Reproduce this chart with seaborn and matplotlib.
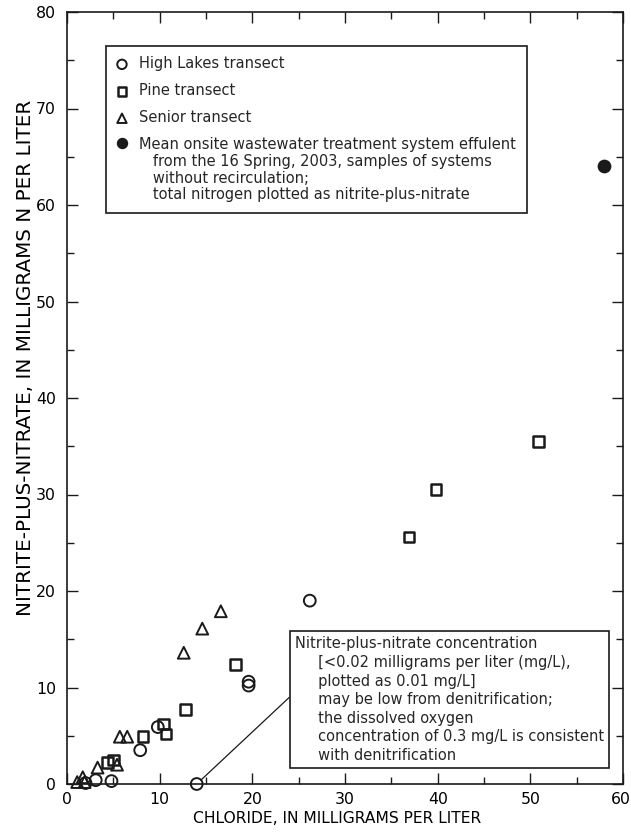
import matplotlib
matplotlib.use("Agg")
import matplotlib.pyplot as plt
import matplotlib.transforms as mtransforms
import seaborn as sns
from matplotlib.ticker import MultipleLocator, FuncFormatter

# chloride (mg/L) vs nitrite-plus-nitrate (mg/L as N)
high_lakes_cl = [14.0, 26.2, 19.6, 19.6, 7.9, 4.8, 3.1, 2.0, 9.8]
high_lakes_no3 = [0.0, 19.0, 10.6, 10.2, 3.5, 0.3, 0.4, 0.1, 5.9]

pine_cl = [50.9, 39.8, 36.9, 18.2, 12.8, 10.4, 10.7, 8.2, 5.0, 4.4]
pine_no3 = [35.5, 30.5, 25.6, 12.4, 7.7, 6.2, 5.2, 4.9, 2.5, 2.2]

senior_cl = [16.6, 14.6, 12.6, 5.7, 6.5, 5.4, 3.3, 1.7, 1.9, 1.1]
senior_no3 = [17.9, 16.1, 13.6, 4.9, 4.9, 2.0, 1.7, 0.7, 0.2, 0.2]

effluent_cl = [57.9]
effluent_no3 = [64.0]

x_max = 60
y_max = 80

legend_labels = [
    "High Lakes transect",
    "Pine transect",
    "Senior transect",
    "Mean onsite wastewater treatment system effulent\n"
    "   from the 16 Spring, 2003, samples of systems\n"
    "   without recirculation;\n"
    "   total nitrogen plotted as nitrite-plus-nitrate",
]

note_text = (
    "Nitrite-plus-nitrate concentration\n"
    "     [<0.02 milligrams per liter (mg/L),\n"
    "     plotted as 0.01 mg/L]\n"
    "     may be low from denitrification;\n"
    "     the dissolved oxygen\n"
    "     concentration of 0.3 mg/L is consistent\n"
    "     with denitrification"
)

sns.set_style("ticks")
plt.rcParams["font.family"] = ["DejaVu Sans"]

fig = plt.figure(figsize=(6.31, 8.32), dpi=100)
ax = fig.add_axes([67 / 631, 1 - 784 / 832, 556 / 631, 772 / 832])

ink = "#1a1a1a"
common = dict(s=72, linewidth=1.4, clip_on=False, zorder=3)

# 1. open markers for the three transects
sns.scatterplot(x=high_lakes_cl, y=high_lakes_no3, marker="o", facecolor="none",
                edgecolor=ink, label=legend_labels[0], ax=ax, **common)
sns.scatterplot(x=pine_cl, y=pine_no3, marker="s", facecolor="none",
                edgecolor=ink, label=legend_labels[1], ax=ax,
                **{**common, "s": 58, "linewidth": 1.8})
sns.scatterplot(x=senior_cl, y=senior_no3, marker="^", facecolor="none",
                edgecolor=ink, label=legend_labels[2], ax=ax, **common)

# 2. filled marker for the septic effluent mean
sns.scatterplot(x=effluent_cl, y=effluent_no3, marker="o", color=ink,
                edgecolor=ink, label=legend_labels[3], ax=ax, **common)

# axes
ax.set_xlim(0, x_max)
ax.set_ylim(0, y_max)
ax.xaxis.set_major_locator(MultipleLocator(10))
ax.xaxis.set_minor_locator(MultipleLocator(5))
ax.yaxis.set_major_locator(MultipleLocator(10))
ax.yaxis.set_minor_locator(MultipleLocator(5))
# last x label is drawn separately so it stays inside the figure
ax.xaxis.set_major_formatter(FuncFormatter(lambda v, p: "" if v >= x_max else f"{v:g}"))
ax.tick_params(which="both", direction="in", top=True, right=True,
               color=ink, labelcolor="black", width=1.0, labelsize=11.3, pad=8)
ax.tick_params(axis="x", which="both", pad=6)
ax.tick_params(which="major", length=8)
ax.tick_params(which="minor", length=5)
for sp in ax.spines.values():
    sp.set_linewidth(1.2)
    sp.set_color(ink)

shift = mtransforms.ScaledTranslation(0.075, -6 / 72, fig.dpi_scale_trans)
ax.text(1.0, 0.0, f"{x_max:g}", transform=ax.transAxes + shift, ha="right", va="top",
        fontsize=11.3, color="black")

ax.set_xlabel("CHLORIDE, IN MILLIGRAMS PER LITER", fontsize=11.2, color="black")
ax.set_ylabel("NITRITE-PLUS-NITRATE, IN MILLIGRAMS N PER LITER", fontsize=14.3,
              color="black")
ax.xaxis.set_label_coords(0.486, -0.035)
ax.yaxis.set_label_coords(-0.058, 0.552)

# legend box
leg = ax.legend(loc="upper left", bbox_to_anchor=(0.07, 0.956), borderaxespad=0,
                fontsize=10.5, frameon=True, fancybox=False, framealpha=1,
                edgecolor=ink, markerscale=0.8, handlelength=0.8,
                handletextpad=0.8, labelspacing=0.82, borderpad=0.7)
leg.get_frame().set_linewidth(1.2)
for t in leg.get_texts():
    t.set_linespacing(1.15)
# put the marker of the long entry on its first line
leg._legend_handle_box.get_children()[0].get_children()[3].align = "top"

# note with leader line to the low High Lakes sample
ax.annotate(note_text, xy=(high_lakes_cl[0], high_lakes_no3[0]), xytext=(24.6, 15.3),
            textcoords="data", ha="left", va="top", fontsize=10.5, linespacing=1.3,
            bbox=dict(boxstyle="square,pad=0.35", fc="white", ec=ink, lw=1.2),
            arrowprops=dict(arrowstyle="-", color=ink, lw=0.9, shrinkA=0,
                            shrinkB=4, relpos=(0, 0.56)))

fig.savefig("out.png", dpi=100)
